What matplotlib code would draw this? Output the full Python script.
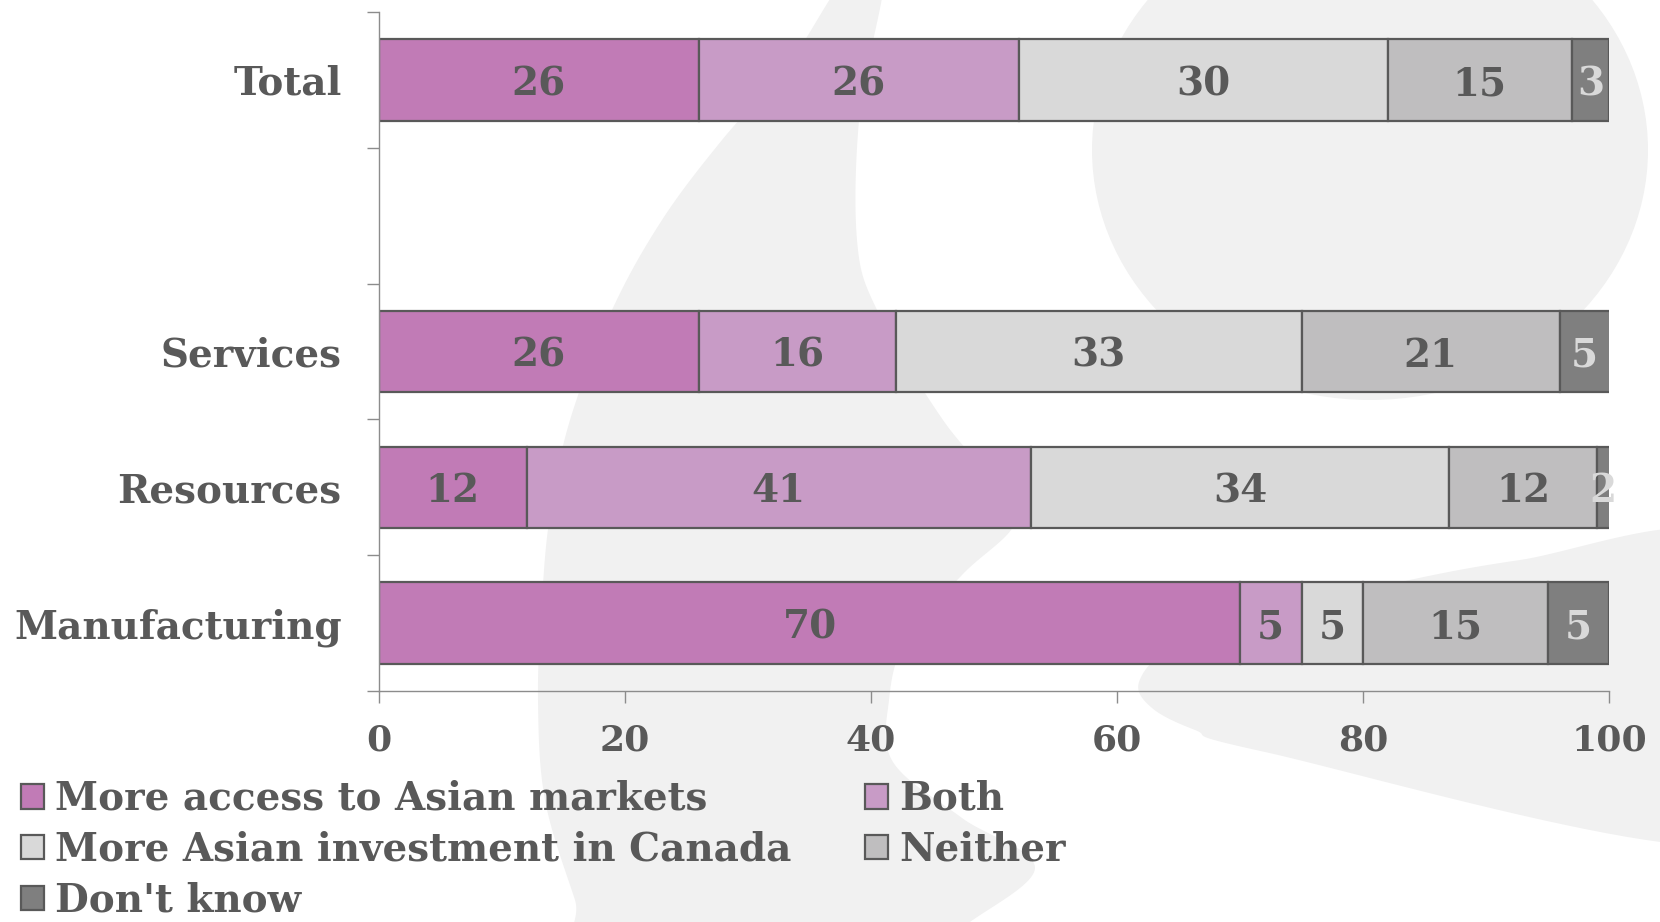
import numpy as np
import matplotlib.pyplot as plt
from matplotlib.patches import Polygon, Ellipse

# ---- Data ----
categories = ["Total", "Services", "Resources", "Manufacturing"]
positions = [0, 2, 3, 4]          # slot 1 stays empty under "Total"
series_names = [
    "More access to Asian markets",
    "Both",
    "More Asian investment in Canada",
    "Neither",
    "Don't know",
]
access = [26, 26, 12, 70]
both = [26, 16, 41, 5]
investment = [30, 33, 34, 5]
neither = [15, 21, 12, 15]
dont_know = [3, 5, 2, 5]
x_ticks = [0, 20, 40, 60, 80, 100]

# ---- Styling ----
bar_colors = ["#c17bb6", "#c89bc6", "#d9d9d9", "#bfbebf", "#7f7f7f"]
value_colors = ["#595959", "#595959", "#595959", "#595959", "#d9d9d9"]
text_color = "#595959"
edge_color = "#595959"
axis_color = "#8c8c8c"
shade = "#f1f1f1"

plt.rcParams["font.family"] = ["DejaVu Serif"]
plt.rcParams["font.weight"] = "bold"

W, H = 1660, 922
fig = plt.figure(figsize=(W / 100, H / 100), dpi=100)
fig.patch.set_facecolor("white")


def closed_spline(points, n=24):
    """Closed Catmull-Rom curve through the given points."""
    p = np.asarray(points, dtype=float)
    out = []
    k = len(p)
    t = np.linspace(0, 1, n, endpoint=False)[:, None]
    for i in range(k):
        p0, p1, p2, p3 = p[i - 1], p[i], p[(i + 1) % k], p[(i + 2) % k]
        out.append(0.5 * ((2 * p1) + (-p0 + p2) * t
                          + (2 * p0 - 5 * p1 + 4 * p2 - p3) * t ** 2
                          + (-p0 + 3 * p1 - 3 * p2 + p3) * t ** 3))
    return np.vstack(out)


# ---- Background swirl (pixel coordinates) ----
bg = fig.add_axes([0, 0, 1, 1], zorder=0)
bg.set_xlim(0, W)
bg.set_ylim(H, 0)
bg.axis("off")

band = [(848, -25), (884, -25), (860, 110), (857, 240), (878, 312),
        (943, 420), (1000, 488), (1014, 525), (962, 575), (906, 640),
        (889, 700), (893, 762), (962, 818), (1035, 868), (960, 930),
        (930, 970), (600, 970), (575, 900), (545, 800), (538, 700),
        (542, 600), (550, 515), (570, 420), (612, 310), (662, 220),
        (722, 140), (790, 62)]
sweep = [(1720, 535), (1520, 560), (1400, 582), (1265, 614), (1172, 648),
         (1139, 682), (1152, 708), (1195, 730), (1265, 752), (1720, 845),
         (1760, 700)]
bg.add_patch(Polygon(closed_spline(band), closed=True, facecolor=shade,
                     edgecolor="none"))
bg.add_patch(Polygon(closed_spline(sweep), closed=True, facecolor=shade,
                     edgecolor="none"))
bg.add_patch(Ellipse((1370, 150), 556, 500, facecolor=shade, edgecolor="none"))

# ---- Stacked bars ----
ax = fig.add_axes([379 / W, 1 - 691 / H, 1230 / W, 679 / H], zorder=1)
ax.set_facecolor("none")

series = [access, both, investment, neither, dont_know]
left = np.zeros(len(positions))
containers = []
for name, vals, col, vcol in zip(series_names, series, bar_colors, value_colors):
    bars = ax.barh(positions, vals, left=left, height=0.6, color=col,
                   edgecolor=edge_color, linewidth=1.6, label=name)
    labels = ax.bar_label(bars, labels=[str(v) for v in vals],
                          label_type="center", color=vcol, fontsize=28,
                          fontweight="bold")
    for lab in labels:
        lab.xyann = (0, -3)   # sit the digits a touch below centre
    containers.append(bars)
    left += np.asarray(vals)

ax.set_xlim(0, 100)
ax.set_ylim(4.5, -0.5)

for side in ("top", "right"):
    ax.spines[side].set_visible(False)
for side in ("left", "bottom"):
    ax.spines[side].set_color(axis_color)
    ax.spines[side].set_linewidth(1.0)

ax.set_yticks(positions, categories)
ax.set_yticks(np.arange(-0.5, 5.0, 1.0), minor=True)
ax.tick_params(axis="y", which="major", length=0, pad=27,
               labelsize=28, labelcolor=text_color)
ax.tick_params(axis="y", which="minor", length=8.6, width=1.0,
               color=axis_color)

ax.set_xticks(x_ticks)
ax.tick_params(axis="x", length=8.6, width=1.0, color=axis_color,
               pad=15, labelsize=26, labelcolor=text_color)
ax.grid(False)

# legend filled row by row: two columns, three rows
order = [0, 2, 4, 1, 3]
fig.legend([containers[i] for i in order], [series_names[i] for i in order],
           loc="upper left", bbox_to_anchor=(21 / W, 1 - 780 / H), ncol=2,
           frameon=False, fontsize=28, handlelength=0.6, handleheight=0.6,
           handletextpad=0.27, columnspacing=1.9, labelspacing=0.33,
           borderpad=0, borderaxespad=0, labelcolor=text_color)

fig.savefig("out.png", dpi=100, facecolor="white")
